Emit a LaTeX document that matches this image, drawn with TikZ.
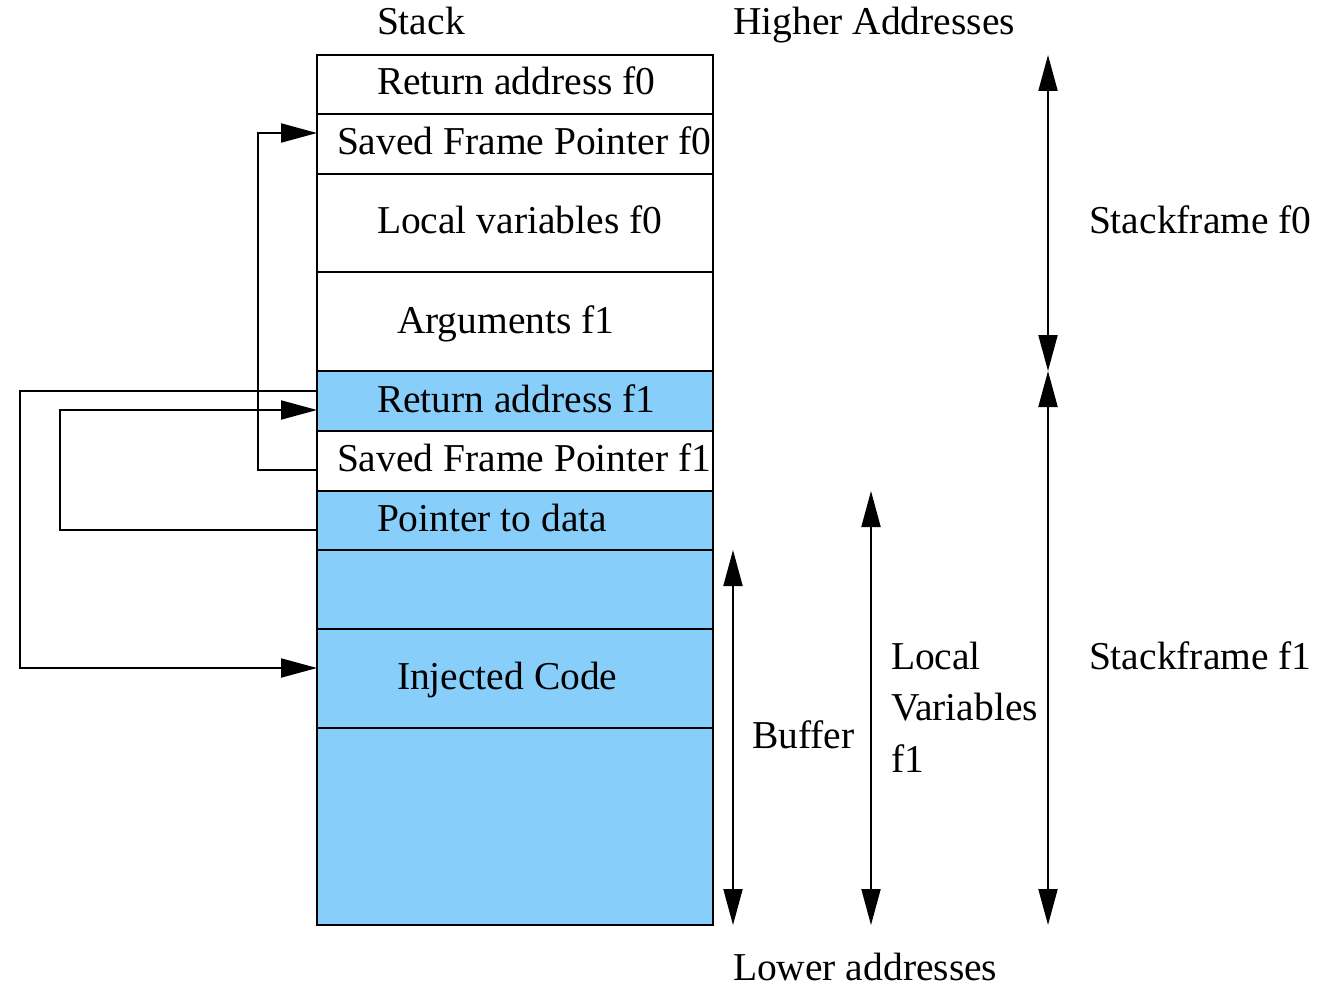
\documentclass[tikz,border=0pt]{standalone}
\usepackage{fontspec}
\setmainfont{Liberation Serif}
\usetikzlibrary{arrows.meta,calc}
\definecolor{bufblue}{RGB}{135,206,250}
\begin{document}
\begin{tikzpicture}[x=0.5pt,y=-0.5pt,
  cell/.style={draw=black,line width=1pt,minimum width=198pt,inner sep=0pt,outer sep=0pt},
  hot/.style={cell,fill=bufblue},
  txt/.style={font=\fontsize{19.75pt}{24pt}\selectfont,inner sep=0pt,outer sep=0pt,anchor=base west},
  link/.style={line width=1pt,-{Triangle[length=18pt,width=9.5pt]}},
  span/.style={line width=1pt,{Triangle[length=18pt,width=9.5pt]}-{Triangle[length=18pt,width=9.5pt]}}]
\useasboundingbox (0,0) rectangle (1326,990);

% stack cells, top (higher addresses) to bottom
\node[cell,minimum height=29.5pt] (r1) at (515,84.5) {};
\node[cell,minimum height=30pt]   (r2) at (515,144) {};
\node[cell,minimum height=49pt]   (r3) at (515,223) {};
\node[cell,minimum height=49.5pt] (r4) at (515,321.5) {};
\node[hot,minimum height=30pt]    (r5) at (515,401) {};
\node[cell,minimum height=30pt]   (r6) at (515,461) {};
\node[hot,minimum height=29.5pt]  (r7) at (515,520.5) {};
\node[hot,minimum height=39.5pt]  (r8) at (515,589.5) {};
\node[hot,minimum height=49.5pt]  (r9) at (515,678.5) {};
\node[hot,minimum height=98.5pt]  (r10) at (515,826.5) {};

% cell texts
\node[txt] (t1) at (377,95)  {Return address f0};
\node[txt] (t2) at (337,154) {Saved Frame Pointer f0};
\node[txt] (t3) at (377,233) {Local variables f0};
\node[txt] (t4) at (397,333) {Arguments f1};
\node[txt] (t5) at (377,412) {Return address f1};
\node[txt] (t6) at (337,471) {Saved Frame Pointer f1};
\node[txt] (t7) at (377,531) {Pointer to data};
\node[txt] (t9) at (397,689) {Injected Code};

% headings
\node[txt] (stack)  at (377,35)  {Stack};
\node[txt] (higher) at (733,35)  {Higher Addresses};
\node[txt] (lower)  at (733,980) {Lower addresses};

% pointers between cells
\draw[link] ($(r6.west)+(0,9)$) -- ++(-59,0) |- ($(r2.west)+(0,-11)$);
\draw[link] ($(r5.west)+(0,-10)$) -- ++(-297,0) |- ($(r9.west)+(0,-10.5)$);
\draw[link] ($(r7.west)+(0,9.5)$) -- ++(-257,0) |- ($(r5.west)+(0,9)$);

% extent markers on the right
\coordinate (bufTop) at ($(r8.north east)+(20,0)$);
\coordinate (bufBot) at ($(r10.south east)+(20,0)$);
\coordinate (lvTop)  at ($(r7.north east)+(158,0)$);
\coordinate (lvBot)  at ($(r10.south east)+(158,0)$);
\coordinate (sf0Top) at ($(r1.north east)+(335,0)$);
\coordinate (sfMid)  at ($(r5.north east)+(335,0)$);
\coordinate (sf1Bot) at ($(r10.south east)+(335,0)$);

\draw[span] (bufTop) -- (bufBot);
\draw[span] (lvTop) -- (lvBot);
\draw[span] (sf0Top) -- (sfMid);
\draw[span] (sfMid) -- (sf1Bot);

\node[txt] (buf) at (752,748)  {Buffer};
\node[txt] (lv1) at (891,669)  {Local};
\node[txt] (lv2) at (891,720)  {Variables};
\node[txt] (lv3) at (891,772)  {f1};
\node[txt] (sf0) at (1089,233) {Stackframe f0};
\node[txt] (sf1) at (1089,669) {Stackframe f1};
\end{tikzpicture}
\end{document}
